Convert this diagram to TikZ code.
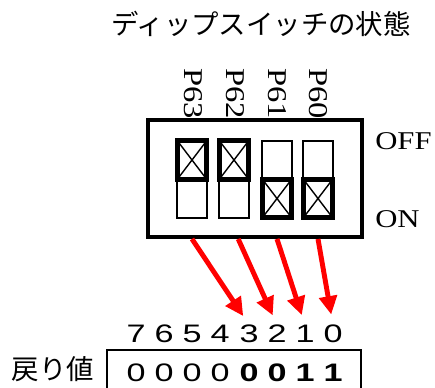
\documentclass[tikz,border=0pt]{standalone}
\usepackage{fontspec}
\setmainfont[FakeStretch=1.2]{Liberation Serif}
\setsansfont[FakeStretch=1.35]{Liberation Sans}
\newfontfamily\jpfont{Noto Sans CJK JP}
\usetikzlibrary{positioning,arrows.meta}

\begin{document}
\begin{tikzpicture}[x=0.25mm,y=-0.25mm,
 jp/.style={font=\jpfont\fontsize{19.5pt}{22pt}\selectfont,inner sep=0pt},
 portlab/.style={font=\fontsize{19.3pt}{22pt}\selectfont,rotate=-90,anchor=west,inner sep=0pt},
 state/.style={font=\fontsize{18.2pt}{21pt}\selectfont,anchor=west,inner sep=0pt},
 dipframe/.style={draw,fill=white,line width=2.8pt,minimum width=53.5mm,minimum height=29.25mm,inner sep=0pt},
 sw/.style={draw,line width=1.3pt,minimum width=7.3mm,minimum height=9.6mm,inner sep=0pt},
 knob/.style={draw,line width=3.4pt,minimum width=7.3mm,minimum height=9.6mm,inner sep=0pt,
  path picture={\draw[line width=1pt] (path picture bounding box.north west) -- (path picture bounding box.south east)
   (path picture bounding box.south west) -- (path picture bounding box.north east);}},
 bit/.style={font=\sffamily\fontsize{18pt}{21pt}\selectfont,inner sep=0pt},
 setbit/.style={bit,font=\sffamily\bfseries\fontsize{18pt}{21pt}\selectfont},
 regbox/.style={draw,line width=1.4pt,minimum width=63.5mm,minimum height=15mm,inner sep=0pt},
 arr/.style={-{Triangle[length=4.6mm,width=4.4mm]},red,line width=3.5pt,shorten >=2.6mm}]
\useasboundingbox (0,0) rectangle (435,387);
\node[jp] (title) at (261,24) {ディップスイッチの状態};
% port labels (ends hidden under the frame)
\node[portlab] (l63) at (193,68) {P63};
\node[portlab] (l62) at (235,68) {P62};
\node[portlab] (l61) at (277,68) {P61};
\node[portlab] (l60) at (318,68) {P60};
\node[dipframe] (dip) at (255,178.5) {};
% switches: upper cell = OFF, lower cell = ON
\node[knob] (t63) at (192,160) {};
\node[sw] (b63) at (192,198.5) {};
\node[knob] (t62) at (234,160) {};
\node[sw] (b62) at (234,198.5) {};
\node[sw] (t61) at (277,160) {};
\node[knob] (b61) at (277,198.5) {};
\node[sw] (t60) at (318,160) {};
\node[knob] (b60) at (318,198.5) {};
\node[state] (off) at (375,141) {OFF};
\node[state] (on) at (375,219) {ON};
% bit numbers
\node[bit] (h7) at (136,334) {7};
\node[bit] (h6) at (164,334) {6};
\node[bit] (h5) at (192,334) {5};
\node[bit] (h4) at (220,334) {4};
\node[bit] (h3) at (249,334) {3};
\node[bit] (h2) at (277,334) {2};
\node[bit] (h1) at (305,334) {1};
\node[bit] (h0) at (333,334) {0};
% return value
\node[regbox] (reg) at (234,380) {};
\node[jp] (ret) at (53,369) {戻り値};
\node[bit] (v7) at (136,372.5) {0};
\node[bit] (v6) at (164,372.5) {0};
\node[bit] (v5) at (192,372.5) {0};
\node[bit] (v4) at (220,372.5) {0};
\node[setbit] (v3) at (249,372.5) {0};
\node[setbit] (v2) at (277,372.5) {0};
\node[setbit] (v1) at (305,372.5) {1};
\node[setbit] (v0) at (333,372.5) {1};
\draw[arr] (t63 |- dip.south) -- (h3.north);
\draw[arr] ([xshift=3]t62 |- dip.south) -- (h2.north);
\draw[arr] (t61 |- dip.south) -- (h1.north);
\draw[arr] (t60 |- dip.south) -- (h0.north);
\end{tikzpicture}
\end{document}
